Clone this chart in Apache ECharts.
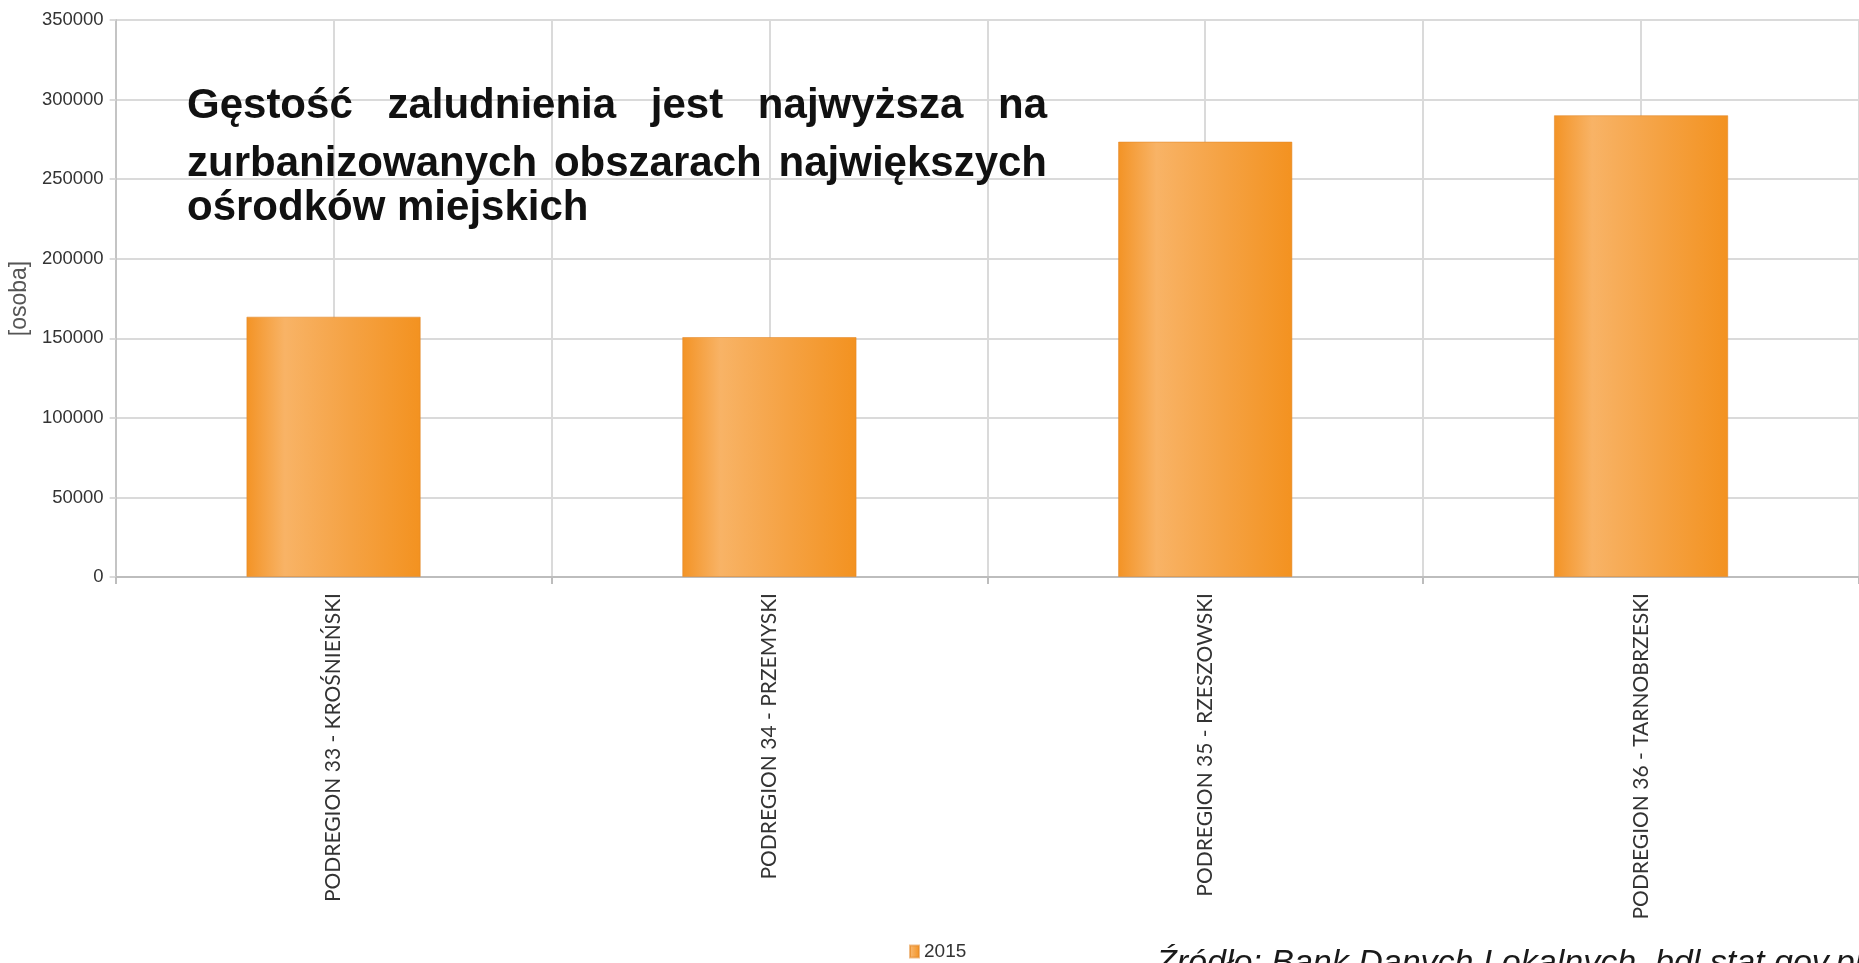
<!DOCTYPE html>
<html><head><meta charset="utf-8">
<script src="https://cdn.jsdelivr.net/npm/echarts@6/dist/echarts.min.js"></script>
<style>html,body{margin:0;padding:0;background:#fff}#c{width:1859px;height:963px}</style>
</head><body><div id="c"></div>
<script>
// ---- data ----
const categories = ['PODREGION 33 - KROŚNIEŃSKI', 'PODREGION 34 - PRZEMYSKI', 'PODREGION 35 - RZESZOWSKI', 'PODREGION 36 - TARNOBRZESKI'];
const seriesName = '2015';
const values2015 = [163600, 150800, 273600, 290200];
const yMin = 0, yMax = 350000, yInterval = 50000;
const yAxisName = '[osoba]';
const titleLines = ['Gęstość zaludnienia jest najwyższa na', 'zurbanizowanych obszarach największych', 'ośrodków miejskich'];
const sourceText = 'Źródło: Bank Danych Lokalnych, bdl.stat.gov.pl';

// ---- layout helpers ----
const titleFamily = '"Liberation Sans", Arial, sans-serif';
const titleSize = 42;
const ctx = document.createElement('canvas').getContext('2d');
ctx.font = 'bold ' + titleSize + 'px ' + titleFamily;
function titleText(text, x, y) {
  return { type: 'text', x: x, y: y, z: 10,
    style: { text: text, fontSize: titleSize, fontWeight: 'bold', fontFamily: titleFamily, fill: '#111', verticalAlign: 'middle', textAlign: 'left' } };
}
function lineElems(text, left, right, y, justify) {
  if (!justify) return [titleText(text, left, y)];
  const words = text.split(' ');
  const widths = words.map(w => ctx.measureText(w).width);
  const total = widths.reduce((a, b) => a + b, 0);
  const gap = (right - left - total) / (words.length - 1);
  let x = left; const out = [];
  words.forEach((w, i) => { out.push(titleText(w, x, y)); x += widths[i] + gap; });
  return out;
}
const boxL = 187, boxR = 1047;
const lineY = [106, 164, 208];
let graphics = [];
titleLines.forEach((t, i) => { graphics = graphics.concat(lineElems(t, boxL, boxR, lineY[i], i < titleLines.length - 1)); });
graphics.push({ type: 'text', x: 1156, y: 947, z: 10,
  style: { text: sourceText, fontSize: 34, fontStyle: 'italic', fontFamily: '"Liberation Sans", Arial, sans-serif', fill: '#1a1a1a', verticalAlign: 'top' } });

const gridColor = '#dadada';
const chart = echarts.init(document.getElementById('c'), null, { renderer: 'canvas' });
chart.setOption({
  animation: false,
  backgroundColor: '#ffffff',
  grid: { left: 114, right: -9, top: 20, bottom: 386, containLabel: false },
  legend: {
    data: [{ name: seriesName, icon: 'rect' }],
    left: 904, top: 937, itemWidth: 9, itemHeight: 12, itemGap: 6,
    textStyle: { fontFamily: '"Liberation Sans", Arial, sans-serif', fontSize: 19, color: '#333' }
  },
  xAxis: [{
    type: 'category', data: categories,
    axisLine: { show: true, lineStyle: { color: '#bdbdbd', width: 2 } },
    axisTick: { show: true, length: 7, lineStyle: { color: '#bdbdbd', width: 2 } },
    splitLine: { show: false },
    axisLabel: { rotate: 90, margin: 16, fontFamily: 'Lato, "Open Sans", sans-serif', fontSize: 21, color: '#333' }
  }, {
    type: 'value', min: 0, max: 4, interval: 0.5, position: 'top',
    axisLine: { show: false }, axisTick: { show: false }, axisLabel: { show: false },
    splitLine: { show: true, lineStyle: { color: gridColor, width: 2 } }
  }],
  yAxis: {
    type: 'value', min: yMin, max: yMax, interval: yInterval,
    name: yAxisName, nameLocation: 'middle', nameGap: 78,
    nameTextStyle: { fontFamily: '"Liberation Sans", Arial, sans-serif', fontSize: 23, color: '#555' },
    axisLine: { show: true, lineStyle: { color: '#c4c4c4', width: 2 } },
    axisTick: { show: true, length: 6, lineStyle: { color: gridColor, width: 2 } },
    splitLine: { show: true, lineStyle: { color: gridColor, width: 2 } },
    axisLabel: { margin: 12, fontFamily: '"Liberation Sans", Arial, sans-serif', fontSize: 18.5, color: '#333', formatter: v => String(v) }
  },
  series: [{
    name: seriesName, type: 'bar', xAxisIndex: 0, data: values2015, barWidth: '40%',
    itemStyle: {
      color: new echarts.graphic.LinearGradient(0, 0, 1, 0, [
        { offset: 0, color: '#f39325' }, { offset: 0.22, color: '#f8b366' },
        { offset: 0.6, color: '#f5a243' }, { offset: 1, color: '#f39220' }]),
      borderColor: 'rgba(225,135,40,0.55)', borderWidth: 1
    }
  }],
  graphic: graphics
});
</script></body></html>
